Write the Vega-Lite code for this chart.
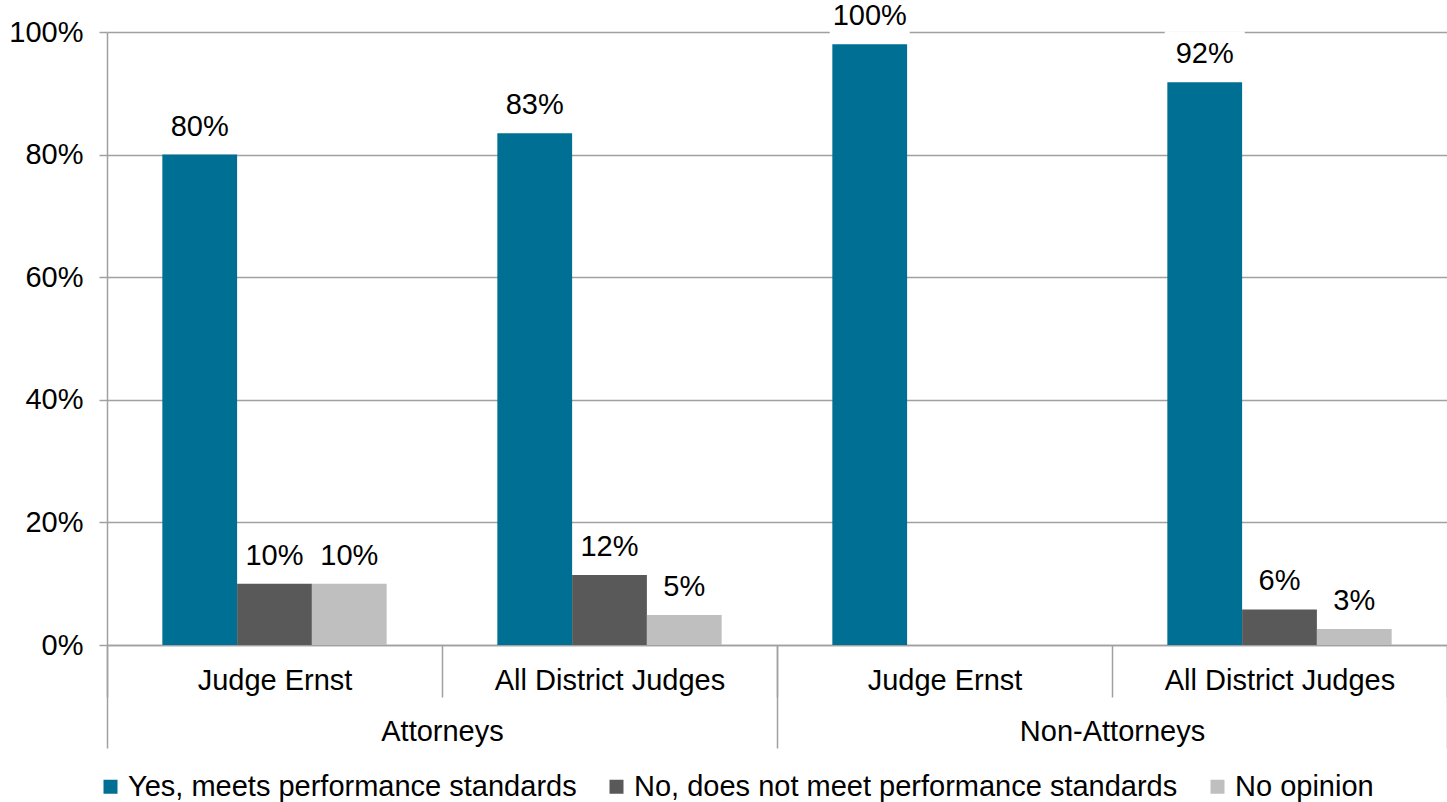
{
  "$schema": "https://vega.github.io/schema/vega-lite/v6.json",
  "width": 1340,
  "height": 613,
  "autosize": {"type": "none"},
  "padding": {"left": 107, "top": 32, "right": 0, "bottom": 157},
  "background": "white",
  "config": {
    "font": "Liberation Sans",
    "view": {"stroke": null},
    "axis": {"labelFont": "Liberation Sans", "labelColor": "#000000", "labelFontSize": 29, "labelLimit": 1000, "domainColor": "#a0a0a0", "tickColor": "#a0a0a0", "gridColor": "#a0a0a0", "domainWidth": 1.5, "tickWidth": 1.5, "gridWidth": 1.5},
    "legend": {"labelFont": "Liberation Sans"}
  },
  "data": {
    "values": [
      {"outer": "Attorneys", "key": "Attorneys|Judge Ernst", "series": "Yes, meets performance standards", "value": 0.80, "label": "80%"},
      {"outer": "Attorneys", "key": "Attorneys|Judge Ernst", "series": "No, does not meet performance standards", "value": 0.10, "label": "10%"},
      {"outer": "Attorneys", "key": "Attorneys|Judge Ernst", "series": "No opinion", "value": 0.10, "label": "10%"},
      {"outer": "Attorneys", "key": "Attorneys|All District Judges", "series": "Yes, meets performance standards", "value": 0.835, "label": "83%"},
      {"outer": "Attorneys", "key": "Attorneys|All District Judges", "series": "No, does not meet performance standards", "value": 0.114, "label": "12%"},
      {"outer": "Attorneys", "key": "Attorneys|All District Judges", "series": "No opinion", "value": 0.049, "label": "5%"},
      {"outer": "Non-Attorneys", "key": "Non-Attorneys|Judge Ernst", "series": "Yes, meets performance standards", "value": 0.98, "label": "100%"},
      {"outer": "Non-Attorneys", "key": "Non-Attorneys|Judge Ernst", "series": "No, does not meet performance standards", "value": 0, "label": ""},
      {"outer": "Non-Attorneys", "key": "Non-Attorneys|Judge Ernst", "series": "No opinion", "value": 0, "label": ""},
      {"outer": "Non-Attorneys", "key": "Non-Attorneys|All District Judges", "series": "Yes, meets performance standards", "value": 0.918, "label": "92%"},
      {"outer": "Non-Attorneys", "key": "Non-Attorneys|All District Judges", "series": "No, does not meet performance standards", "value": 0.058, "label": "6%"},
      {"outer": "Non-Attorneys", "key": "Non-Attorneys|All District Judges", "series": "No opinion", "value": 0.026, "label": "3%"}
    ]
  },
  "layer": [
    {
      "encoding": {
        "x": {
          "field": "key", "type": "nominal", "sort": null,
          "scale": {"paddingInner": 0, "paddingOuter": 0},
          "axis": {"title": null, "labelExpr": "split(datum.label, '|')[1]", "tickBand": "extent", "tickSize": 52, "labelPadding": -17, "labelBaseline": "middle", "labelAngle": 0, "grid": false, "domain": true}
        },
        "xOffset": {
          "field": "series", "type": "nominal",
          "sort": ["Yes, meets performance standards", "No, does not meet performance standards", "No opinion"],
          "scale": {"paddingInner": 0, "paddingOuter": 0.74}
        },
        "y": {
          "field": "value", "type": "quantitative", "stack": null,
          "scale": {"domain": [0, 1]},
          "axis": {"title": null, "format": ".0%", "values": [0, 0.2, 0.4, 0.6, 0.8, 1], "tickSize": 8, "labelPadding": 16, "grid": true, "domain": true}
        }
      },
      "layer": [
        {
          "transform": [{"filter": "datum.label != ''"}],
          "mark": {"type": "bar", "color": "#ffffff", "width": 80, "yOffset": -5, "y2Offset": -51},
          "encoding": {"y2": {"field": "value"}}
        },
        {
          "mark": {"type": "bar"},
          "encoding": {
            "color": {
              "field": "series", "type": "nominal",
              "scale": {"domain": ["Yes, meets performance standards", "No, does not meet performance standards", "No opinion"], "range": ["#006f94", "#595959", "#bfbfbf"]},
              "legend": {"orient": "none", "legendX": -11, "legendY": 740, "padding": 0, "direction": "horizontal", "title": null, "symbolType": "square", "symbolSize": 196, "symbolStrokeWidth": 0, "symbolOpacity": 1, "labelFontSize": 29, "labelColor": "#000000", "labelLimit": 1000, "columnPadding": 25, "labelOffset": 3}
            }
          }
        },
        {
          "mark": {"type": "text", "fontSize": 29, "baseline": "middle", "dy": -28, "color": "#000000"},
          "encoding": {"text": {"field": "label"}}
        }
      ]
    },
    {
      "mark": {"type": "bar", "opacity": 0},
      "encoding": {
        "x": {
          "field": "outer", "type": "nominal", "sort": ["Attorneys", "Non-Attorneys"],
          "scale": {"type": "band", "paddingInner": 0, "paddingOuter": 0},
          "axis": {"orient": "bottom", "title": null, "tickBand": "extent", "tickSize": 103, "labelPadding": -17, "labelBaseline": "middle", "labelAngle": 0, "grid": false, "domain": false}
        }
      }
    }
  ],
  "resolve": {"scale": {"x": "independent"}, "axis": {"x": "independent"}}
}
